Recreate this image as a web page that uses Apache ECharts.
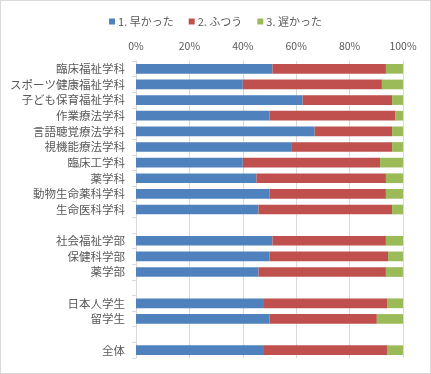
<!DOCTYPE html>
<html><head><meta charset="utf-8">
<script src="https://cdn.jsdelivr.net/npm/echarts@6/dist/echarts.min.js"></script>
<style>
html,body{margin:0;padding:0;background:#fff;}
#c{width:431px;height:374px;box-sizing:border-box;border:1px solid #d9d9d9;}
</style></head><body>
<div id="c"></div>
<script>
var categories = ['臨床福祉学科','スポーツ健康福祉学科','子ども保育福祉学科','作業療法学科','言語聴覚療法学科','視機能療法学科','臨床工学科','薬学科','動物生命薬科学科','生命医科学科','','社会福祉学部','保健科学部','薬学部','','日本人学生','留学生','','全体'];
var seriesNames = ['1. 早かった','2. ふつう','3. 遅かった'];
var early  = [51.1,40.0,62.4,50.0,66.9,58.1,40.0,45.1,50.0,45.9,null,51.1,50.0,45.9,null,47.6,50.0,null,47.6];
var normal = [42.5,52.1,33.5,47.2,29.0,37.8,51.4,48.5,43.6,50.0,null,42.5,44.4,47.7,null,46.4,40.2,null,46.4];
var late   = [6.4,7.9,4.1,2.8,4.1,4.1,8.6,6.4,6.4,4.1,null,6.4,5.6,6.4,null,6.0,9.8,null,6.0];
var xTicks = [0,20,40,60,80,100];
var colors = ['#4f81bd','#c0504d','#9bbb59'];
var font = '"Noto Sans CJK JP", sans-serif';
var chart = echarts.init(document.getElementById('c'));
var vals = [early, normal, late];
chart.setOption({
  animation:false,
  color: colors,
  legend:{
    top:10, left:'center', itemWidth:6, itemHeight:6, itemGap:15,
    icon:'rect',
    textStyle:{fontFamily:font,fontSize:11,color:'#595959',padding:[0,0,0,-2]},
    data: seriesNames
  },
  grid:{left:135, right:27, top:60, bottom:15, containLabel:false},
  xAxis:{
    type:'value', position:'top', min:xTicks[0], max:xTicks[xTicks.length-1], interval:20,
    axisLine:{show:false}, axisTick:{show:false},
    splitLine:{show:true,lineStyle:{color:'#d9d9d9',width:1}},
    axisLabel:{formatter:'{value}%', fontFamily:font, fontSize:10.5, color:'#595959', margin:10}
  },
  yAxis:{
    type:'category', inverse:true, data:categories,
    axisLine:{show:true,lineStyle:{color:'#d9d9d9'}},
    axisTick:{show:true,length:4,lineStyle:{color:'#d9d9d9'}},
    axisLabel:{fontFamily:font,fontSize:11.5,color:'#595959',margin:11,interval:0}
  },
  series: seriesNames.map(function(n,i){
    return {name:n,type:'bar',stack:'t',data:vals[i],barCategoryGap:'38%',itemStyle:{color:colors[i]}};
  })
});
</script>
</body></html>
